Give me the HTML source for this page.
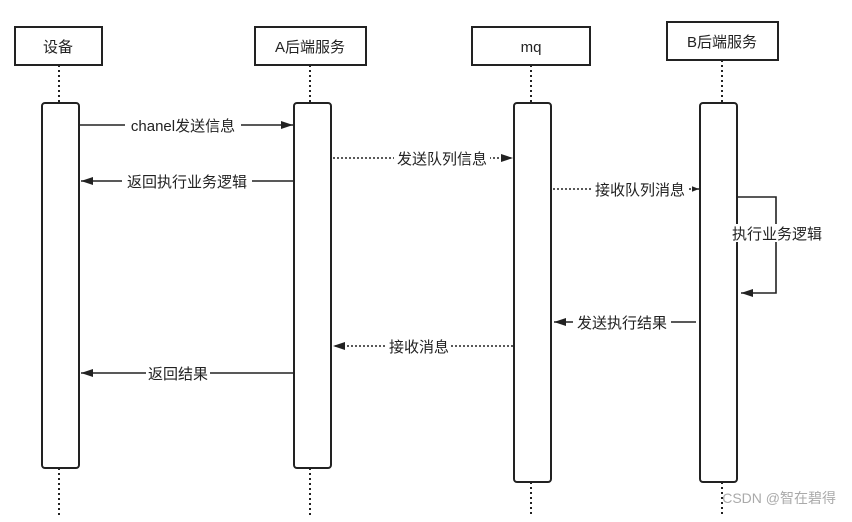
<!DOCTYPE html>
<html><head><meta charset="utf-8"><style>
body{margin:0;background:#fff}
svg text{font-family:"Liberation Sans","Noto Sans CJK SC",sans-serif;font-size:15px;fill:#222}
</style></head><body>
<svg width="852" height="517" viewBox="0 0 852 517" xmlns="http://www.w3.org/2000/svg">
<defs>
<marker id="a" viewBox="0 0 12 10" refX="12" refY="5" markerWidth="13" markerHeight="10" markerUnits="userSpaceOnUse" orient="auto"><path d="M0,1 L12,5 L0,9 z" fill="#222"/></marker>
<marker id="s" viewBox="0 0 10 10" refX="10" refY="5" markerWidth="7" markerHeight="7" markerUnits="userSpaceOnUse" orient="auto"><path d="M0,1 L10,5 L0,9 z" fill="#222"/></marker>
</defs>
<g stroke="#222" stroke-width="2" fill="none" stroke-dasharray="2,3">
<line x1="59" y1="65" x2="59" y2="103"/><line x1="59" y1="468" x2="59" y2="517"/>
<line x1="310" y1="65" x2="310" y2="103"/><line x1="310" y1="468" x2="310" y2="517"/>
<line x1="531" y1="65" x2="531" y2="103"/><line x1="531" y1="482" x2="531" y2="517"/>
<line x1="722" y1="60" x2="722" y2="103"/><line x1="722" y1="482" x2="722" y2="517"/>
</g>
<g stroke="#222" stroke-width="2" fill="#fff">
<rect x="15" y="27" width="87" height="38"/>
<rect x="255" y="27" width="111" height="38"/>
<rect x="472" y="27" width="118" height="38"/>
<rect x="667" y="22" width="111" height="38"/>
<rect x="42" y="103" width="37" height="365" rx="3"/>
<rect x="294" y="103" width="37" height="365" rx="3"/>
<rect x="514" y="103" width="37" height="379" rx="3"/>
<rect x="700" y="103" width="37" height="379" rx="3"/>
</g>
<g>
<text x="58" y="52" text-anchor="middle">设备</text>
<text x="310" y="52" text-anchor="middle">A后端服务</text>
<text x="531" y="52" text-anchor="middle">mq</text>
<text x="722" y="47" text-anchor="middle">B后端服务</text>
</g>
<g stroke="#222" stroke-width="1.6" fill="none">
<line x1="80" y1="125" x2="293" y2="125" marker-end="url(#a)"/>
<line x1="294" y1="181" x2="81" y2="181" marker-end="url(#a)"/>
<line x1="333" y1="158" x2="513" y2="158" stroke-dasharray="2,2" marker-end="url(#a)"/>
<line x1="553" y1="189" x2="699" y2="189" stroke-dasharray="2,2" marker-end="url(#s)"/>
<polyline points="738,197 776,197 776,293 741,293" marker-end="url(#a)"/>
<line x1="696" y1="322" x2="554" y2="322" marker-end="url(#a)"/>
<line x1="513" y1="346" x2="333" y2="346" stroke-dasharray="2,2" marker-end="url(#a)"/>
<line x1="294" y1="373" x2="81" y2="373" marker-end="url(#a)"/>
</g>
<g>
<rect x="125" y="116" width="116" height="18" fill="#fff"/><text x="183" y="131" text-anchor="middle">chanel发送信息</text>
<rect x="122" y="172" width="130" height="18" fill="#fff"/><text x="187" y="187" text-anchor="middle">返回执行业务逻辑</text>
<rect x="394" y="149" width="96" height="18" fill="#fff"/><text x="442" y="164" text-anchor="middle">发送队列信息</text>
<rect x="592" y="180" width="96" height="18" fill="#fff"/><text x="640" y="195" text-anchor="middle">接收队列消息</text>
<rect x="728" y="224" width="98" height="18" fill="#fff"/><text x="777" y="239" text-anchor="middle">执行业务逻辑</text>
<rect x="573" y="313" width="98" height="18" fill="#fff"/><text x="622" y="328" text-anchor="middle">发送执行结果</text>
<rect x="387" y="337" width="64" height="18" fill="#fff"/><text x="419" y="352" text-anchor="middle">接收消息</text>
<rect x="146" y="364" width="64" height="18" fill="#fff"/><text x="178" y="379" text-anchor="middle">返回结果</text>
</g>
<text x="836" y="503" text-anchor="end" style="fill:#aaa;font-size:14px">CSDN @智在碧得</text>
</svg>
</body></html>
